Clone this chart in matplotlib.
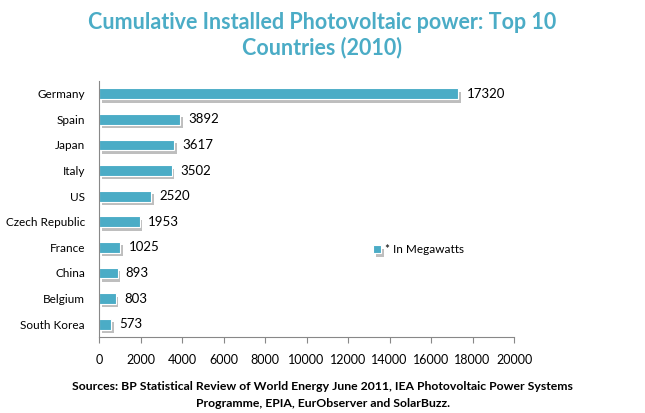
import matplotlib.pyplot as plt
import matplotlib.patheffects as pe
import numpy as np

countries = ['Germany', 'Spain', 'Japan', 'Italy', 'US', 'Czech Republic',
             'France', 'China', 'Belgium', 'South Korea']
power_mw = [17320, 3892, 3617, 3502, 2520, 1953, 1025, 893, 803, 573]

bar_color = '#4BACC6'
plt.rcParams['font.family'] = ['Lato', 'DejaVu Sans']

fig = plt.figure(figsize=(6.45, 4.13), dpi=100)
ax = fig.add_axes([0.1535, 0.184, 0.6435, 0.62])

y = np.arange(len(countries))
shadow = [pe.SimplePatchShadow(offset=(2, -2.5), shadow_rgbFace='#707070', alpha=0.45), pe.Normal()]
bars = ax.barh(y, power_mw, height=0.42, color=bar_color, edgecolor='white',
               linewidth=0.8, label='* In Megawatts', path_effects=shadow)
for yi, v in zip(y, power_mw):
    ax.text(v + 400, yi, str(v), va='center', ha='left', fontsize=9.5, color='black')

ax.set_ylim(len(countries) - 0.5, -0.5)
ax.set_xlim(0, 20000)
ax.set_xticks(np.arange(0, 20001, 2000))
ax.set_yticks(y)
ax.set_yticklabels(countries, fontsize=8.5)
ax.tick_params(axis='y', length=0, pad=10)
ax.tick_params(axis='x', direction='out', length=4, color='#888888', labelsize=9, pad=8)
for s in ['top', 'right']:
    ax.spines[s].set_visible(False)
ax.spines['left'].set_color('#888888')
ax.spines['bottom'].set_color('#888888')

fig.text(0.5, 0.945, 'Cumulative Installed Photovoltaic power: Top 10', ha='center', va='center',
         fontsize=15.5, fontweight='bold', color=bar_color)
fig.text(0.5, 0.885, 'Countries (2010)', ha='center', va='center',
         fontsize=15.5, fontweight='bold', color=bar_color)

fig.legend(handles=[bars], labels=['* In Megawatts'], loc='center left',
           bbox_to_anchor=(0.562, 0.395), frameon=False, fontsize=8.5,
           handlelength=0.7, handleheight=0.7, handletextpad=0.3)

fig.text(0.5, 0.063, 'Sources: BP Statistical Review of World Energy June 2011, IEA Photovoltaic Power Systems',
         ha='center', va='center', fontsize=8.8, fontweight='bold')
fig.text(0.5, 0.022, 'Programme, EPIA, EurObserver and SolarBuzz.',
         ha='center', va='center', fontsize=8.8, fontweight='bold')

fig.savefig('out.png', dpi=100)
